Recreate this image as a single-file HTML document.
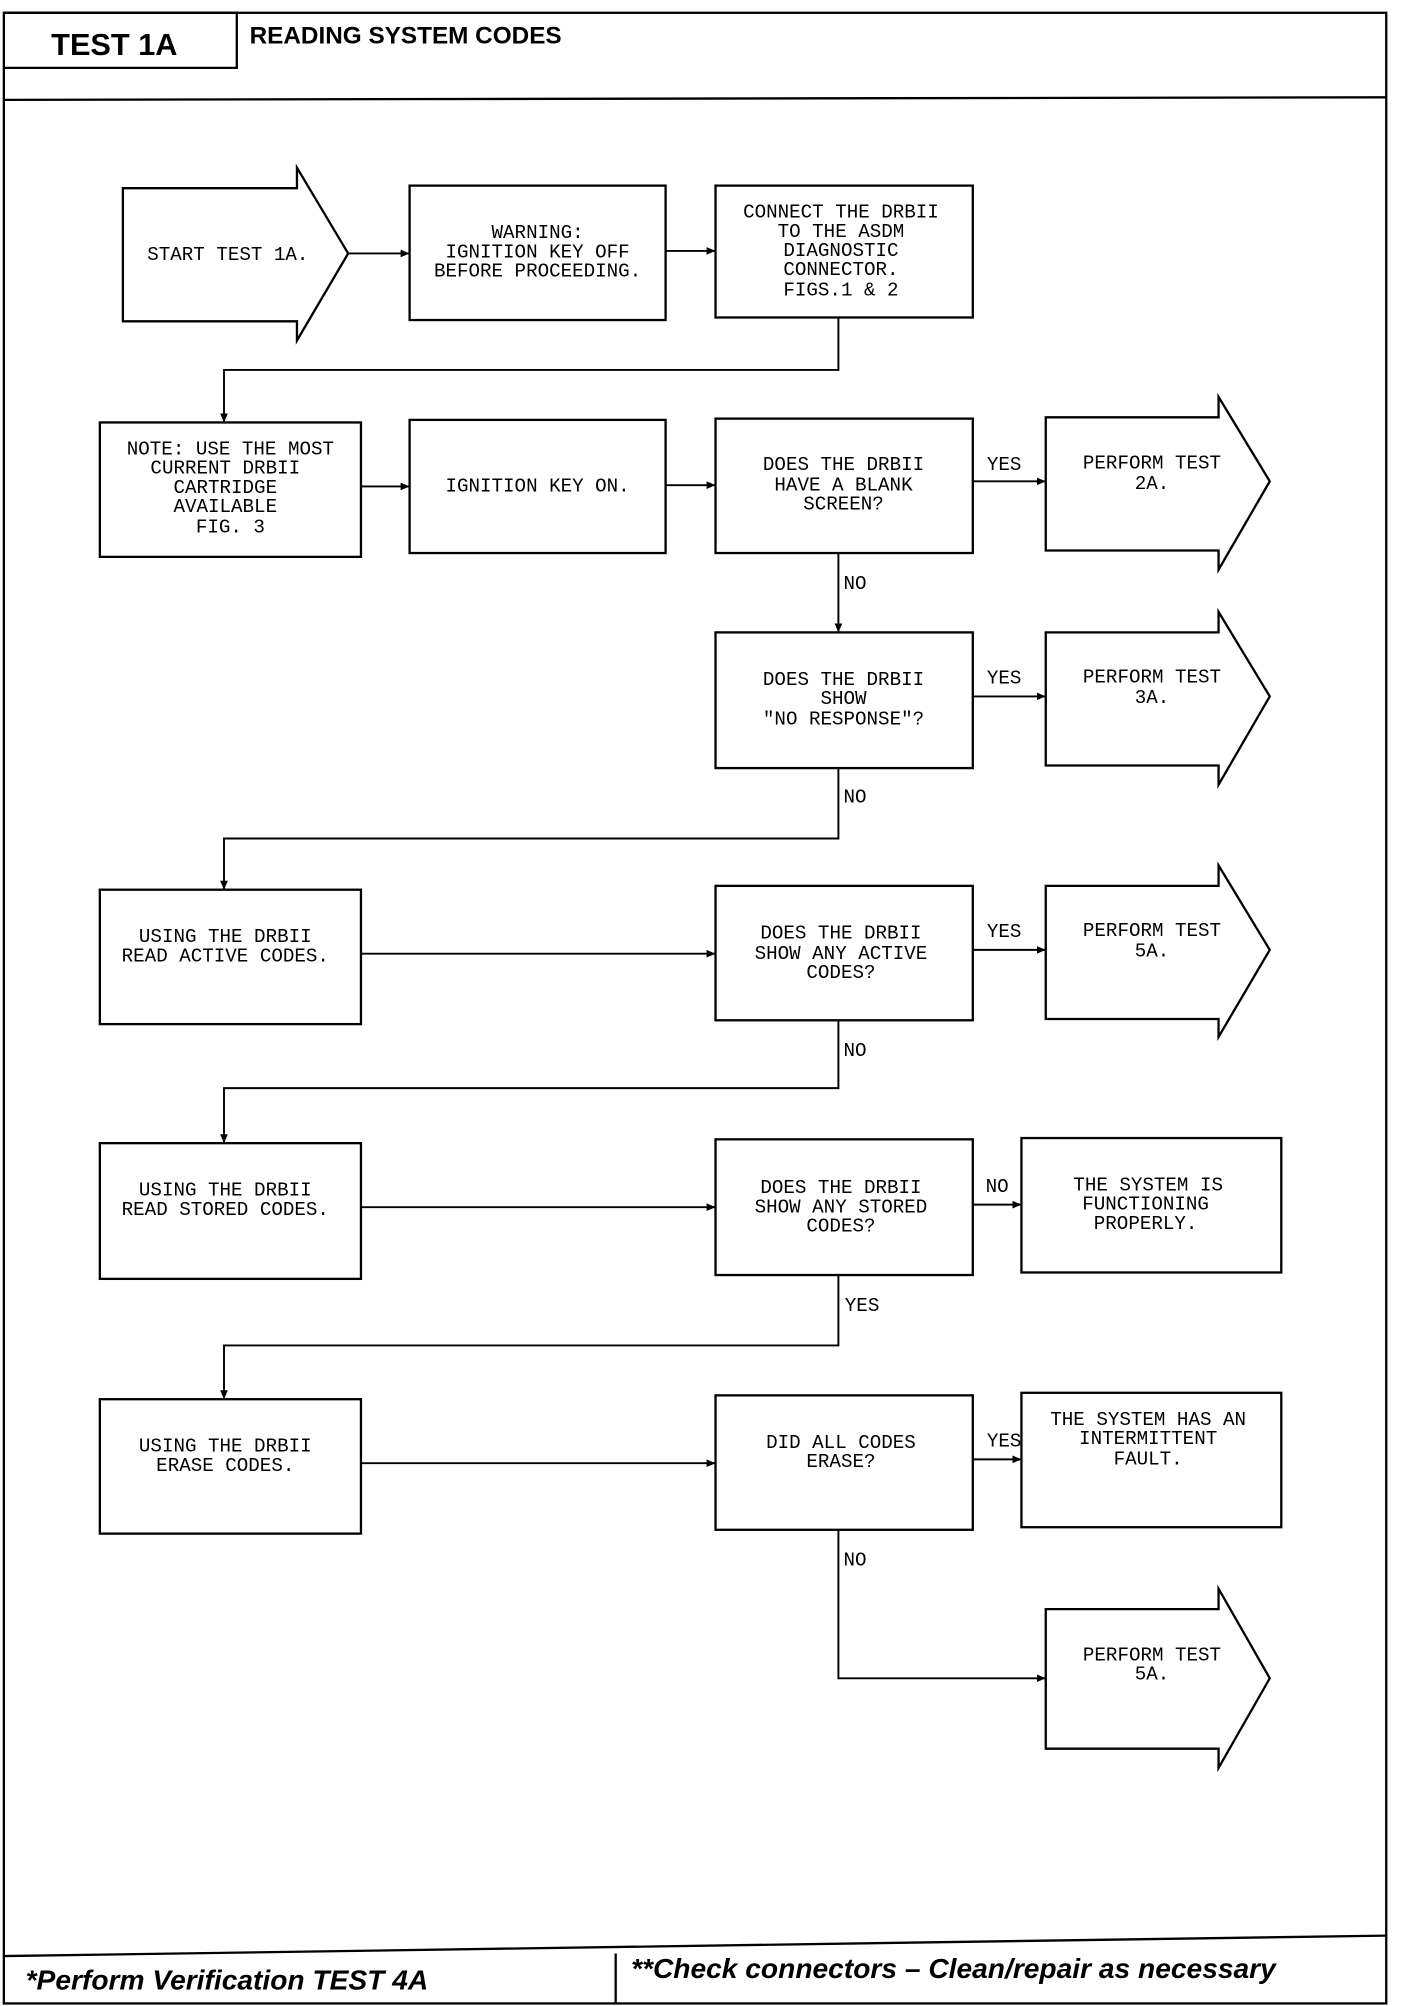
<!DOCTYPE html>
<html><head><meta charset="utf-8"><style>
html,body{margin:0;padding:0;background:#fff}
svg{display:block}
.t{font-family:"Liberation Mono",monospace;font-size:15px;fill:#000;text-anchor:middle}
.l{font-family:"Liberation Mono",monospace;font-size:15px;fill:#000}
</style></head><body>
<svg width="1408" height="2006" viewBox="0 0 1100 1567" preserveAspectRatio="none" xmlns="http://www.w3.org/2000/svg">
<defs><marker id="a" markerWidth="8" markerHeight="8" refX="7" refY="4" orient="auto" markerUnits="userSpaceOnUse"><path d="M0,1 L7,4 L0,7 Z" fill="#000"/></marker></defs>
<g fill="none" stroke="#000" stroke-width="1.8">
<rect x="3" y="10" width="1080" height="1555"/>
<polyline points="3,10 185,10 185,53 3,53"/>
<line x1="3" y1="78" x2="1083" y2="76"/>
<line x1="3" y1="1528" x2="1083" y2="1512"/>
<line x1="481" y1="1526" x2="481" y2="1565"/>
<polygon points="96,147 232,147 232,131 272,198 232,266 232,251 96,251"/>
<rect x="320" y="145" width="200" height="105"/>
<rect x="559" y="145" width="201" height="103"/>
<rect x="78" y="330" width="204" height="105"/>
<rect x="320" y="328" width="200" height="104"/>
<rect x="559" y="327" width="201" height="105"/>
<polygon points="817,326 952,326 952,310 992,376 952,445 952,430 817,430"/>
<rect x="559" y="494" width="201" height="106"/>
<polygon points="817,494 952,494 952,478 992,544 952,613 952,598 817,598"/>
<rect x="78" y="695" width="204" height="105"/>
<rect x="559" y="692" width="201" height="105"/>
<polygon points="817,692 952,692 952,676 992,742 952,810 952,796 817,796"/>
<rect x="78" y="893" width="204" height="106"/>
<rect x="559" y="890" width="201" height="106"/>
<rect x="798" y="889" width="203" height="105"/>
<rect x="78" y="1093" width="204" height="105"/>
<rect x="559" y="1090" width="201" height="105"/>
<rect x="798" y="1088" width="203" height="105"/>
<polygon points="817,1257 952,1257 952,1241 992,1311 952,1381 952,1366 817,1366"/>
</g>
<g fill="none" stroke="#000" stroke-width="1.5" marker-end="url(#a)">
<line x1="272" y1="198" x2="320" y2="198"/>
<line x1="520" y1="196" x2="559" y2="196"/>
<polyline points="655,248 655,289 175,289 175,330"/>
<line x1="282" y1="380" x2="320" y2="380"/>
<line x1="520" y1="379" x2="559" y2="379"/>
<line x1="760" y1="376" x2="817" y2="376"/>
<line x1="655" y1="432" x2="655" y2="494"/>
<line x1="760" y1="544" x2="817" y2="544"/>
<polyline points="655,600 655,655 175,655 175,695"/>
<line x1="282" y1="745" x2="559" y2="745"/>
<line x1="760" y1="742" x2="817" y2="742"/>
<polyline points="655,797 655,850 175,850 175,893"/>
<line x1="282" y1="943" x2="559" y2="943"/>
<line x1="760" y1="941" x2="798" y2="941"/>
<polyline points="655,996 655,1051 175,1051 175,1093"/>
<line x1="282" y1="1143" x2="559" y2="1143"/>
<line x1="760" y1="1140" x2="798" y2="1140"/>
<polyline points="655,1195 655,1311 817,1311"/>
</g>
<text x="40" y="43" style="font-family:'Liberation Sans',sans-serif;font-weight:bold;font-size:24px">TEST 1A</text>
<text x="195" y="34" style="font-family:'Liberation Sans',sans-serif;font-weight:bold;font-size:19px">READING SYSTEM CODES</text>
<text x="20" y="1554" style="font-family:'Liberation Sans',sans-serif;font-weight:bold;font-style:italic;font-size:22px">*Perform Verification TEST 4A</text>
<text x="493" y="1545" style="font-family:'Liberation Sans',sans-serif;font-weight:bold;font-style:italic;font-size:22px">**Check connectors – Clean/repair as necessary</text>
<text class="t" x="178" y="203">START TEST 1A.</text>
<text class="t" x="420" y="186">WARNING:</text>
<text class="t" x="420" y="201">IGNITION KEY OFF</text>
<text class="t" x="420" y="216">BEFORE PROCEEDING.</text>
<text class="t" x="657" y="170">CONNECT THE DRBII</text>
<text class="t" x="657" y="185">TO THE ASDM</text>
<text class="t" x="657" y="200">DIAGNOSTIC</text>
<text class="t" x="657" y="215">CONNECTOR.</text>
<text class="t" x="657" y="231">FIGS.1 &amp; 2</text>
<text class="t" x="180" y="355">NOTE: USE THE MOST</text>
<text class="t" x="176" y="370">CURRENT DRBII</text>
<text class="t" x="176" y="385">CARTRIDGE</text>
<text class="t" x="176" y="400">AVAILABLE</text>
<text class="t" x="180" y="416">FIG. 3</text>
<text class="t" x="420" y="384">IGNITION KEY ON.</text>
<text class="t" x="659" y="367">DOES THE DRBII</text>
<text class="t" x="659" y="383">HAVE A BLANK</text>
<text class="t" x="659" y="398">SCREEN?</text>
<text class="l" x="771" y="367">YES</text>
<text class="t" x="900" y="366">PERFORM TEST</text>
<text class="t" x="900" y="382">2A.</text>
<text class="l" x="659" y="460">NO</text>
<text class="t" x="659" y="535">DOES THE DRBII</text>
<text class="t" x="659" y="550">SHOW</text>
<text class="t" x="659" y="566">"NO RESPONSE"?</text>
<text class="l" x="771" y="534">YES</text>
<text class="t" x="900" y="533">PERFORM TEST</text>
<text class="t" x="900" y="549">3A.</text>
<text class="l" x="659" y="627">NO</text>
<text class="t" x="176" y="736">USING THE DRBII</text>
<text class="t" x="176" y="751">READ ACTIVE CODES.</text>
<text class="t" x="657" y="733">DOES THE DRBII</text>
<text class="t" x="657" y="749">SHOW ANY ACTIVE</text>
<text class="t" x="657" y="764">CODES?</text>
<text class="l" x="771" y="732">YES</text>
<text class="t" x="900" y="731">PERFORM TEST</text>
<text class="t" x="900" y="747">5A.</text>
<text class="l" x="659" y="825">NO</text>
<text class="t" x="176" y="934">USING THE DRBII</text>
<text class="t" x="176" y="949">READ STORED CODES.</text>
<text class="t" x="657" y="932">DOES THE DRBII</text>
<text class="t" x="657" y="947">SHOW ANY STORED</text>
<text class="t" x="657" y="962">CODES?</text>
<text class="l" x="770" y="931">NO</text>
<text class="t" x="897" y="930">THE SYSTEM IS</text>
<text class="t" x="895" y="945">FUNCTIONING</text>
<text class="t" x="895" y="960">PROPERLY.</text>
<text class="l" x="660" y="1024">YES</text>
<text class="t" x="176" y="1134">USING THE DRBII</text>
<text class="t" x="176" y="1149">ERASE CODES.</text>
<text class="t" x="657" y="1131">DID ALL CODES</text>
<text class="t" x="657" y="1146">ERASE?</text>
<text class="l" x="771" y="1130">YES</text>
<text class="t" x="897" y="1113">THE SYSTEM HAS AN</text>
<text class="t" x="897" y="1128">INTERMITTENT</text>
<text class="t" x="897" y="1144">FAULT.</text>
<text class="l" x="659" y="1223">NO</text>
<text class="t" x="900" y="1297">PERFORM TEST</text>
<text class="t" x="900" y="1312">5A.</text>
</svg>
</body></html>
